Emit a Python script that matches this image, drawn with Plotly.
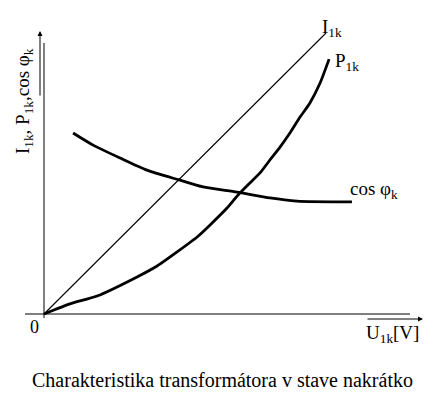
import plotly.graph_objects as go

# ---- data (arbitrary units, U1k on x) ----
I_U = [0.0, 10.0]
I_val = [0.0, 10.0]

P_U = [0.0, 0.92, 1.88, 3.30, 4.01, 4.72, 5.43, 5.89, 6.49, 6.88, 7.30, 7.66,
       8.01, 8.37, 8.72, 9.08, 9.43, 9.79, 10.11]
P_val = [0.0, 0.36, 0.64, 1.32, 1.71, 2.21, 2.74, 3.17, 3.77, 4.23, 4.66, 5.02,
         5.48, 5.94, 6.44, 7.01, 7.51, 8.22, 9.07]

cos_U = [1.03, 1.74, 2.70, 3.65, 4.79, 5.64, 6.84, 8.01, 8.97, 10.92]
cos_val = [6.44, 6.01, 5.55, 5.12, 4.77, 4.52, 4.34, 4.13, 4.02, 3.99]

label_I = "I<sub>1k</sub>"
label_P = "P<sub>1k</sub>"
label_cos = "cos φ<sub>k</sub>"
label_x = "U<sub>1k</sub>[V]"
label_y = "I<sub>1k</sub>, P<sub>1k</sub>,cos φ<sub>k</sub>"
title_text = "Charakteristika transformátora v stave nakrátko"

# ---- layout geometry (pixel -> data helpers) ----
W, H = 440, 397
X0, Y0 = 44, 314       # pixel position of origin
SX, SY = 28.2, 28.1    # pixels per unit


def dx(px):
    return (px - X0) / SX


def dy(py):
    return (Y0 - py) / SY


FONT = "Liberation Serif"

fig = go.Figure()
fig.add_trace(go.Scatter(x=I_U, y=I_val, mode="lines",
                         line=dict(color="black", width=1.1), hoverinfo="skip"))
fig.add_trace(go.Scatter(x=P_U, y=P_val, mode="lines",
                         line=dict(color="black", width=2.8, shape="spline", smoothing=0.6),
                         hoverinfo="skip"))
fig.add_trace(go.Scatter(x=cos_U, y=cos_val, mode="lines",
                         line=dict(color="black", width=2.8, shape="spline", smoothing=0.6),
                         hoverinfo="skip"))

# axis lines
fig.add_shape(type="line", x0=dx(25), x1=dx(410), y0=0, y1=0,
              line=dict(color="black", width=1))
fig.add_shape(type="line", x0=0, x1=0, y0=dy(318), y1=dy(43),
              line=dict(color="black", width=1))

ann = []
# arrows (overlines of axis labels)
ann.append(dict(x=dx(423), y=dy(319), ax=dx(366), ay=dy(319), xref="x", yref="y",
                axref="x", ayref="y", text="", showarrow=True, arrowhead=2,
                arrowsize=1, arrowwidth=1, arrowcolor="black"))
ann.append(dict(x=dx(40), y=dy(31), ax=dx(40), ay=dy(97), xref="x", yref="y",
                axref="x", ayref="y", text="", showarrow=True, arrowhead=2,
                arrowsize=1, arrowwidth=1, arrowcolor="black"))


def txt(t, px, py, xa="left", ya="middle", size=19, angle=0):
    return dict(x=dx(px), y=dy(py), xref="x", yref="y", text=t, showarrow=False,
                xanchor=xa, yanchor=ya, textangle=angle,
                font=dict(family=FONT, size=size, color="black"))


ann.append(txt(label_I, 320, 28))
ann.append(txt(label_P, 333, 62))
ann.append(txt(label_cos, 348, 190))
ann.append(txt(label_x, 364, 334))
ann.append(txt("0", 34, 327, xa="center", size=18))
ann.append(txt(label_y, 24, 101, xa="center", angle=-90))
ann.append(txt(title_text, 222, 380, xa="center", size=20))

fig.update_layout(
    width=W, height=H,
    margin=dict(l=0, r=0, t=0, b=0),
    paper_bgcolor="white", plot_bgcolor="white",
    showlegend=False,
    font=dict(family=FONT),
    xaxis=dict(range=[dx(0), dx(W)], visible=False, fixedrange=True),
    yaxis=dict(range=[dy(H), dy(0)], visible=False, fixedrange=True),
    annotations=ann,
)

fig.write_html("out.html", config={"displayModeBar": False},
               post_script="document.body.style.margin='0';"
                           "document.body.style.padding='0';"
                           "document.body.style.overflow='hidden';")
